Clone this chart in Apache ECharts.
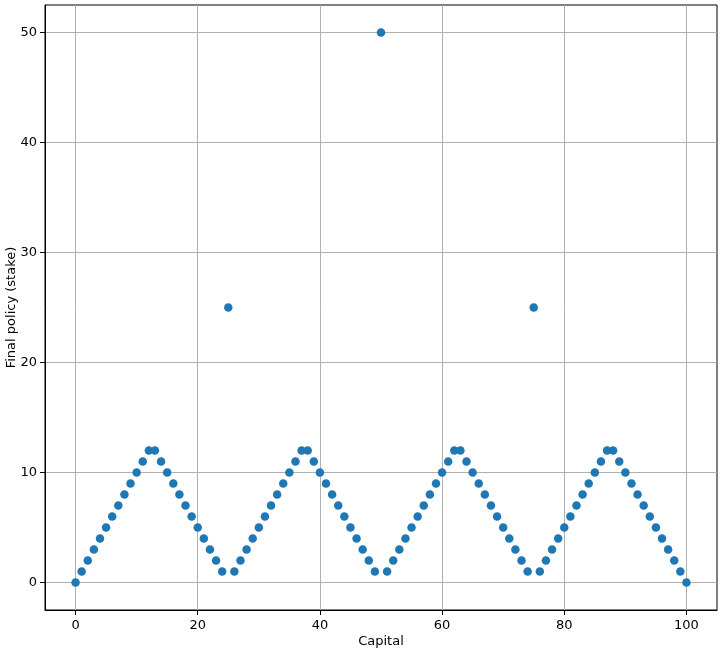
<!DOCTYPE html>
<html>
<head>
<meta charset="utf-8">
<script src="https://cdn.jsdelivr.net/npm/echarts@6/dist/echarts.min.js"></script>
<style>html,body{margin:0;padding:0;background:#fff}#c{width:724px;height:650px}</style>
</head>
<body>
<div id="c"></div>
<script>
const capital = [];
for (let i = 0; i <= 100; i++) capital.push(i);
const stake = [
  0, 1, 2, 3, 4, 5, 6, 7, 8, 9, 10, 11, 12, 12, 11, 10, 9, 8, 7, 6,
  5, 4, 3, 2, 1, 25, 1, 2, 3, 4, 5, 6, 7, 8, 9, 10, 11, 12, 12, 11,
  10, 9, 8, 7, 6, 5, 4, 3, 2, 1, 50, 1, 2, 3, 4, 5, 6, 7, 8, 9,
  10, 11, 12, 12, 11, 10, 9, 8, 7, 6, 5, 4, 3, 2, 1, 25, 1, 2, 3, 4,
  5, 6, 7, 8, 9, 10, 11, 12, 12, 11, 10, 9, 8, 7, 6, 5, 4, 3, 2, 1, 0
];
const xTicks = [0, 20, 40, 60, 80, 100];
const yTicks = [0, 10, 20, 30, 40, 50];

const font = 'DejaVu Sans';
const chart = echarts.init(document.getElementById('c'), null, {renderer: 'canvas'});
chart.setOption({
  animation: false,
  backgroundColor: '#fff',
  grid: {left: 45, right: 7, top: 5, bottom: 40, containLabel: false, outerBoundsMode: 'none',
         show: true, borderColor: '#000', borderWidth: 1, backgroundColor: 'transparent'},
  xAxis: {
    type: 'value', min: -5, max: 105,
    name: 'Capital', nameLocation: 'middle', nameGap: 25, nameMoveOverlap: false,
    nameTextStyle: {fontFamily: font, fontSize: 13, color: '#000'},
    axisLine: {show: true, onZero: false, lineStyle: {color: '#000', width: 1}},
    axisTick: {show: true, customValues: xTicks, length: 5, lineStyle: {color: '#000'}},
    axisLabel: {customValues: xTicks, fontFamily: font, fontSize: 13, color: '#000', margin: 9},
    splitLine: {show: true, lineStyle: {color: '#b0b0b0', width: 1}}
  },
  yAxis: {
    type: 'value', min: -2.5, max: 52.5,
    name: 'Final policy (stake)', nameLocation: 'middle', nameGap: 27, nameRotate: 90, nameMoveOverlap: false,
    nameTextStyle: {fontFamily: font, fontSize: 13, color: '#000'},
    axisLine: {show: true, onZero: false, lineStyle: {color: '#000', width: 1}},
    axisTick: {show: true, customValues: yTicks, length: 5, lineStyle: {color: '#000'}},
    axisLabel: {customValues: yTicks, fontFamily: font, fontSize: 13, color: '#000', margin: 8},
    splitLine: {show: true, lineStyle: {color: '#b0b0b0', width: 1}}
  },
  series: [{
    type: 'scatter',
    data: capital.map((c, i) => [c, stake[i]]),
    symbol: 'circle',
    symbolSize: 8.5,
    itemStyle: {color: '#1f77b4', opacity: 1},
    clip: false
  }]
});
</script>
</body>
</html>
